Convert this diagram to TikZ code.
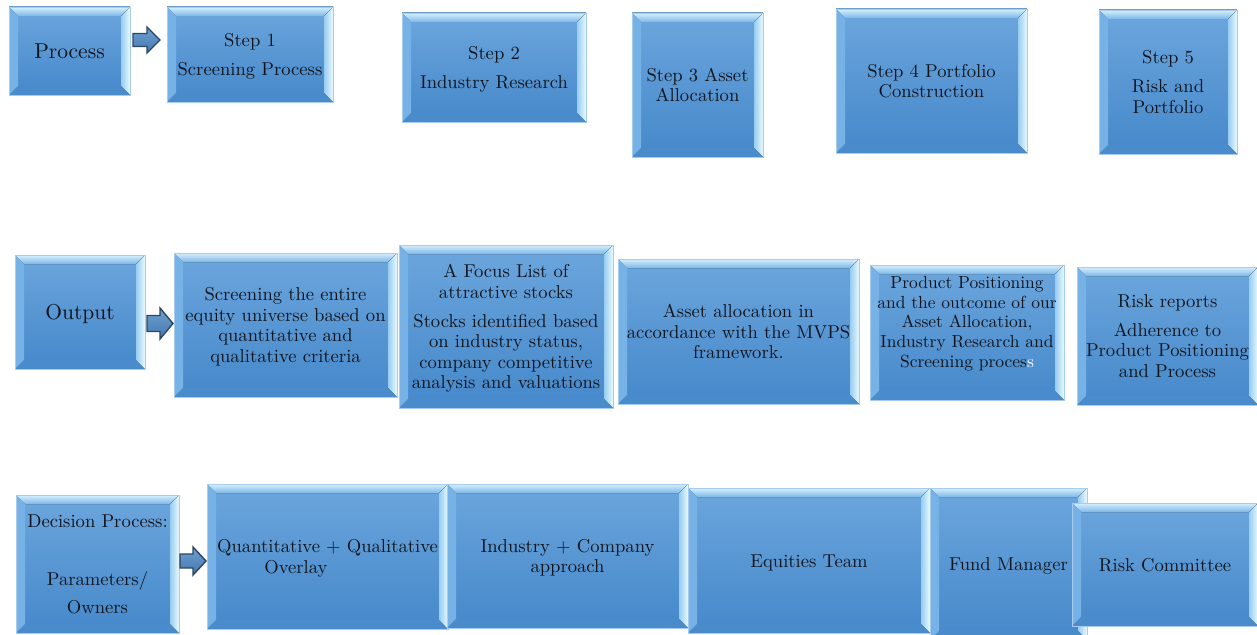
\documentclass[tikz,border=0pt]{standalone}
\usepackage{graphicx}
\usetikzlibrary{calc}
\definecolor{btop}{RGB}{108,166,221}
\definecolor{bbot}{RGB}{69,136,202}
\definecolor{bline}{RGB}{168,204,238}
\definecolor{bvTa}{RGB}{214,240,253}
\definecolor{bvTb}{RGB}{125,183,232}
\definecolor{bvL}{RGB}{118,178,230}
\definecolor{bvRa}{RGB}{150,205,240}
\definecolor{bvRb}{RGB}{235,250,255}
\definecolor{bvB}{RGB}{74,139,204}
\definecolor{arrline}{RGB}{45,70,96}
\definecolor{arrtop}{RGB}{110,160,210}
\definecolor{arrbot}{RGB}{70,120,175}
\definecolor{txt}{RGB}{16,20,28}
% box text: Latin Modern 10pt design, scaled up, nudged down
\newcommand\bt[3][1.86]{\raisebox{-2.5pt}[\height][\depth]{\scalebox{#1}{\fontsize{10}{#2}\selectfont\begin{tabular}{@{}c@{}}#3\end{tabular}}}}
\tikzset{
  bev/.style={draw=bline, line width=0.8pt, top color=btop, bottom color=bbot,
    inner sep=0pt, align=center, text=txt,
    path picture={
      \coordinate (SW) at (path picture bounding box.south west);
      \coordinate (NE) at (path picture bounding box.north east);
      \coordinate (NW) at (SW|-NE);
      \coordinate (SE) at (NE|-SW);
      \fill[top color=bvTa, bottom color=bvTb] (NW) -- (NE) -- ($(NE)+(-9pt,-9pt)$) -- ($(NW)+(9pt,-9pt)$) -- cycle;
      \fill[bvL] (NW) -- ($(NW)+(9pt,-9pt)$) -- ($(SW)+(9pt,9pt)$) -- (SW) -- cycle;
      \fill[left color=bvRa, right color=bvRb] (NE) -- (SE) -- ($(SE)+(-9pt,9pt)$) -- ($(NE)+(-9pt,-9pt)$) -- cycle;
      \fill[bvB] (SW) -- ($(SW)+(9pt,9pt)$) -- ($(SE)+(-9pt,9pt)$) -- (SE) -- cycle;
    }},
  blockarrow/.style={draw=arrline, line width=1.4pt, top color=arrtop, bottom color=arrbot, line join=miter},
  plain/.style={align=center, text=txt, inner sep=0pt},
}
\begin{document}
\begin{tikzpicture}[x=1pt,y=-1pt]
\useasboundingbox (0,0) rectangle (1257,634);
\clip (0,0) rectangle (1257,634);
\fill[white] (0,0) rectangle (1257,634);

% Row 1
\node[bev, minimum width=121pt, minimum height=88pt] (process) at (69.5,51) {\bt[2.15]{11}{Process}};
\node[bev, minimum width=166pt, minimum height=95pt] (s1) at (250,54.5) {\bt{11.02}{Step 1\\[4.3pt]Screening Process}};
\node[bev, minimum width=184pt, minimum height=109pt] (s2) at (494,67.5) {\bt{11.02}{Step 2\\[4.3pt]Industry Research}};
\node[bev, minimum width=131pt, minimum height=144pt] (s3) at (697.5,85) {\bt{11.02}{Step 3 Asset\\Allocation}};
\node[bev, minimum width=191pt, minimum height=144pt] (s4) at (931.5,81) {\bt{11.02}{Step 4 Portfolio\\Construction}};
\node[bev, minimum width=138pt, minimum height=144pt] (s5) at (1168,82) {\bt{11.02}{Step 5\\[4.5pt]Risk and\\Portfolio}};

% Row 2
\node[bev, minimum width=130pt, minimum height=114pt] (output) at (80,312) {\bt[2.15]{11}{Output}};
\node[bev, minimum width=223pt, minimum height=144pt] (o1) at (285.5,325) {\bt{11.02}{Screening the entire\\equity universe based on\\quantitative and\\qualitative criteria}};
\node[bev, minimum width=214pt, minimum height=163pt] (o2) at (506,326.5) {\bt{11.02}{A Focus List of\\attractive stocks\\[4.5pt]Stocks identified based\\on industry status,\\company competitive\\analysis and valuations}};
\node[bev, minimum width=241pt, minimum height=145pt] (o3) at (738.5,331.5) {\bt{11.02}{Asset allocation in\\accordance with the MVPS\\framework.}};
\node[bev, minimum width=194pt, minimum height=135pt] (o4) at (967,332.5) {};
\node[plain] (o4t) at (967,321.5) {\bt[1.75]{11.2}{Product Positioning\\and the outcome of our\\Asset Allocation,\\Industry Research and\\Screening proces{\color{white}s}}};
\node[bev, minimum width=181pt, minimum height=138pt] (o5) at (1167.5,336) {\bt{11.02}{Risk reports\\[4.3pt]Adherence to\\Product Positioning\\and Process}};

% Row 3
\node[bev, minimum width=163pt, minimum height=138pt] (dec) at (97.5,564) {\bt{11.02}{Decision Process:\\[4.5pt]\\[4.5pt]Parameters/\\[4.5pt]Owners}};
\node[bev, minimum width=241pt, minimum height=145pt] (d1) at (327.5,556.5) {\bt{11.02}{Quantitative + Qualitative\\Overlay\hspace*{34pt}}};
\node[bev, minimum width=241pt, minimum height=144pt] (d2) at (567.5,556) {\bt{11.02}{Industry + Company\\approach}};
\node[bev, minimum width=242pt, minimum height=145pt] (d3) at (809,560.5) {\bt{11.02}{Equities Team}};
\node[bev, minimum width=157pt, minimum height=152pt] (d4) at (1008.5,564) {\bt{11.02}{Fund Manager}};
\node[bev, minimum width=186pt, minimum height=123pt] (d5) at (1165,564.5) {\bt{11.02}{Risk Committee}};

% Block arrows
\draw[blockarrow] (133,33.5) -- (147,33.5) -- (147,27) -- (160,40) -- (147,53) -- (147,46.5) -- (133,46.5) -- cycle;
\draw[blockarrow] (147,315.5) -- (160,315.5) -- (160,308) -- (173,323.5) -- (160,339) -- (160,331.5) -- (147,331.5) -- cycle;
\draw[blockarrow] (180,554) -- (193,554) -- (193,547) -- (206,561) -- (193,575) -- (193,568) -- (180,568) -- cycle;
\end{tikzpicture}
\end{document}
